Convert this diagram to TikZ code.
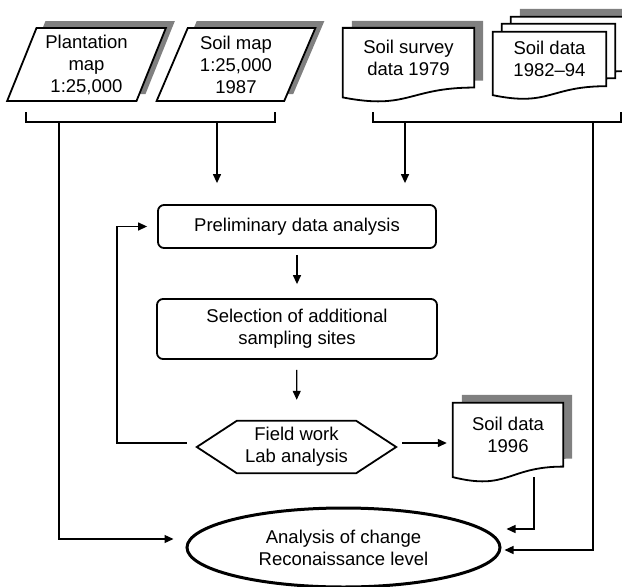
\documentclass[tikz,border=0pt]{standalone}
\usepackage{fontspec}
\setmainfont{Liberation Sans}
\usetikzlibrary{positioning,shapes.geometric,shadows,calc,arrows.meta,backgrounds}
\definecolor{shadowgray}{RGB}{128,128,128}
\newcommand{\docpath}[1]{(#1.north west) -- (#1.north east) -- (#1.south east) .. controls (#1.south) and ($(#1.north)!1.381!(#1.south)$) .. ($(#1.north west)!1.165!(#1.south west)$) -- cycle}

\begin{document}
\begin{tikzpicture}[x=1pt,y=-1pt,font=\fontsize{18.5}{22}\selectfont]
		\tikzset{mapbox/.style={draw,
								trapezium,
								trapezium left angle=68,
								trapezium right angle=112,
								trapezium stretches=true,
								minimum width=159,
								minimum height=73,
								inner sep=0pt,
								line width=1.8pt,
								fill=white,
								align=center,
								greyshadow=7pt},
				 docbox/.style={inner sep=0pt,
								align=center},
				 docline/.style={draw,
								 fill=white,
								 line width=1.8pt},
				 procbox/.style={draw,
								 rectangle,
								 rounded corners=6pt,
								 line width=1.8pt,
								 align=center},
				 hexbox/.style={inner sep=0pt,
								minimum width=199,
								minimum height=52,
								align=center},
				 goal/.style={draw,
							  ellipse,
							  inner sep=0pt,
							  minimum width=313,
							  minimum height=79,
							  line width=3pt,
							  align=center},
				 greyshadow/.style={drop shadow={shadow xshift=9pt,
												 shadow yshift=#1,
												 fill=shadowgray,
												 opacity=1}},
				 link/.style={line width=1.3pt},
				 arrow/.style={->,
							   >={Triangle[length=9pt,width=8pt]},
							   line width=1.3pt}}
		\useasboundingbox (0,0) rectangle (622,587);

		% Nodes
		\node[mapbox] (plantmap) at (86.5,64.5) {Plantation\\map\\1:25,000};
		\node[mapbox] (soilmap) at (236,64.5) {Soil map\\1:25,000\\1987};
		\node[docbox, minimum width=131, minimum height=59.3] (survey) at (408.5,57.7) {Soil survey\\data 1979};
		\node[docbox, minimum width=113, minimum height=54] (data8294) at (549.5,59) {Soil data\\1982--94};
		\node[docbox, minimum width=113, minimum height=54] (data8294b) at ([shift={(9,-8)}]data8294.center) {};
		\node[docbox, minimum width=113, minimum height=54] (data8294c) at ([shift={(18,-15)}]data8294.center) {};
		\node[procbox, minimum width=278, minimum height=43] (prelim) at (297,226.5) {Preliminary data analysis};
		\node[procbox, minimum width=280, minimum height=60] (select) at (297,329) {Selection of additional\\sampling sites};
		\node[hexbox] (field) at (296.5,447) {Field work\\Lab analysis};
		\node[docbox, minimum width=110, minimum height=63.4] (data96) at (508,434.7) {Soil data\\1996};
		\node[goal] (change) at (343.5,547.5) {Analysis of change\\Reconaissance level};

		% Outlines
		\draw[line width=1.8pt] (field.west) -- ([xshift=40pt]field.north west) -- ([xshift=-40pt]field.north east) -- (field.east) -- ([xshift=-40pt]field.south east) -- ([xshift=40pt]field.south west) -- cycle;
		\begin{scope}[on background layer]
			\filldraw[docline, greyshadow=7pt] \docpath{survey};
			\filldraw[docline, greyshadow=8pt] \docpath{data8294c};
			\filldraw[docline] \docpath{data8294b};
			\filldraw[docline] \docpath{data8294};
			\filldraw[docline, greyshadow=8pt] \docpath{data96};
		\end{scope}

		% Brackets
		\coordinate (lb1) at (26,112);
		\coordinate (lb2) at (275,112);
		\coordinate (rb1) at (373,112);
		\coordinate (rb2) at (621,112);
		\coordinate (lbl) at (59,122);
		\coordinate (lbo) at (217,122);
		\coordinate (rbo) at (405,122);
		\coordinate (rbl) at (593,122);
		\coordinate (fbk) at (117,300);
		\draw[link] (lb1) -- ++(0,10) -| (lb2);
		\draw[link] (rb1) -- ++(0,10) -| (rb2);

		% Arrows
		\draw[arrow, shorten >=21pt] (lbo) -- (lbo |- prelim.north);
		\draw[arrow, shorten >=21pt] (rbo) -- (rbo |- prelim.north);
		\draw[arrow, shorten <=6pt, shorten >=14pt] (prelim) -- (select);
		\draw[arrow, shorten <=10pt, shorten >=21pt] (select) -- (field);
		\draw[arrow, shorten <=6pt, shorten >=6pt] ([yshift=4pt]field.east) -- ([yshift=4pt]field.east -| data96.west);
		\draw[arrow, shorten <=10pt, shorten >=10pt] ([yshift=4pt]field.west) -| (fbk) |- (prelim.west);
		\draw[arrow, shorten <=10.5pt, shorten >=5pt] ([xshift=26pt]data96.south) |- ([yshift=18.5pt]change.east);
		\draw[arrow, shorten >=12pt] (lbl) |- ([yshift=8.5pt]change.west);
		\draw[arrow, shorten >=3pt] (rbl) |- ([yshift=-2.5pt]change.east);
	\end{tikzpicture}
\end{document}
